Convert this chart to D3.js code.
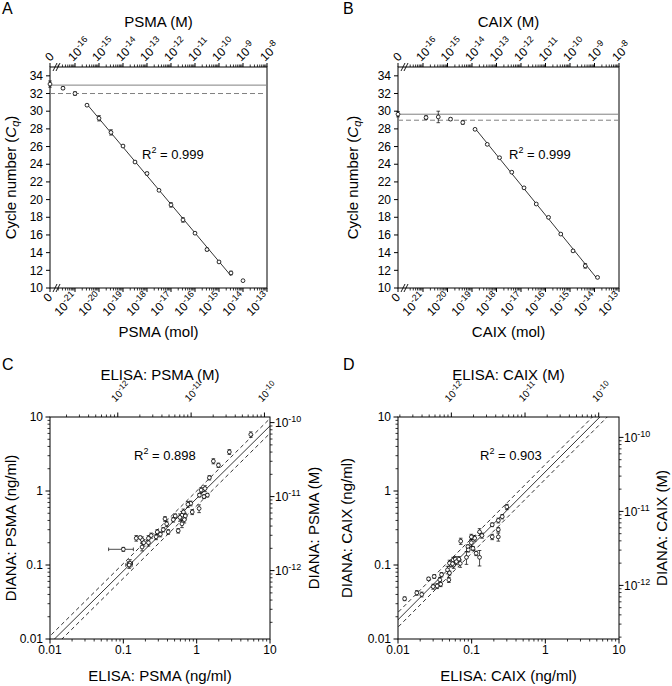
<!DOCTYPE html>
<html><head><meta charset="utf-8">
<script src="https://cdn.jsdelivr.net/npm/d3@7"></script>
<style>
body{margin:0;background:#fff;}
text{font-family: Arial, "Liberation Sans", sans-serif; fill:#000;}
</style></head><body>
<svg id="chart" width="672" height="686"></svg>
<script>
// ================= DATA =================
// Panel A: PSMA calibration (Cq vs amount, mol)
const psmaMol = [3.16e-22,1e-21,3.16e-21,1e-20,3.16e-20,1e-19,3.16e-19,1e-18,3.16e-18,1e-17,3.16e-17,1e-16,3.16e-16,1e-15,3.16e-15,1e-14];
const psmaCq  = [32.6,32.0,30.68,29.2,27.6,26.06,24.25,22.95,21.05,19.4,17.7,16.2,14.35,12.95,11.7,10.83];
const psmaCqErr = [0.15,0.2,0.1,0.3,0.3,0.1,0.1,0.15,0.1,0.25,0.25,0.1,0.15,0.1,0.2,0];
const psmaFitRange = [2,14];
const psmaBlank = [33.07, 0.35];          // Cq, error at amount 0
const psmaLevels = [32.95, 32.0];          // blank mean (solid), cutoff (dashed)
const psmaR2 = "0.999";

// Panel B: CAIX calibration
const caixMol = [1.33e-21,4.2e-21,1.33e-20,4.2e-20,1.33e-19,4.2e-19,1.33e-18,4.2e-18,1.33e-17,4.2e-17,1.33e-16,4.2e-16,1.33e-15,4.2e-15,1.33e-14];
const caixCq  = [29.28,29.35,29.1,28.72,27.95,26.25,24.74,23.1,21.33,19.5,17.99,16.1,14.2,12.5,11.2];
const caixCqErr = [0.2,0.65,0.15,0.2,0.1,0.1,0.1,0.1,0.1,0.1,0.1,0.1,0.1,0.25,0.1];
const caixFitRange = [4,14];
const caixBlank = [29.66, 0.3];
const caixLevels = [29.66, 28.98];
const caixR2 = "0.999";

// Panel C: ELISA vs DIANA, PSMA (ng/ml)
const psmaElisa = [5.47,2.79,1.69,1.98,1.49,1.15,1.30,1.09,1.26,1.40,0.83,0.76,1.08,0.87,0.66,0.63,0.70,0.59,0.68,0.51,0.48,0.63,0.56,0.37,0.39,0.35,0.41,0.29,0.32,0.24,0.28,0.22,0.22,0.18,0.19,0.18,0.15,0.17,0.10,0.123,0.12];
const psmaDiana = [5.8,3.37,2.53,2.23,1.51,1.03,1.08,0.88,0.84,0.88,0.68,0.66,0.58,0.52,0.52,0.47,0.46,0.44,0.41,0.46,0.41,0.36,0.29,0.42,0.36,0.30,0.28,0.28,0.26,0.25,0.24,0.23,0.20,0.22,0.20,0.175,0.23,0.235,0.163,0.106,0.10];
const psmaDianaErr = [0.5,0.25,0.2,0.15,0.1,0.08,0.1,0.05,0.05,0.05,0.05,0.06,0.07,0.04,0.05,0.06,0.04,0.05,0.04,0.03,0.03,0.04,0.02,0.03,0.03,0.02,0.02,0.02,0.02,0.02,0.02,0.02,0.02,0.02,0.02,0.02,0.02,0.01,0.01,0.012,0.01];
const psmaElisaErr = [0,0,0,0,0,0,0,0,0,0,0,0,0,0,0,0,0,0,0,0,0,0,0,0,0,0,0,0,0,0,0,0,0,0,0,0,0,0,0.037,0.01,0.012];
const psmaFit = [0.98, -0.10, 0.10];   // slope, intercept (log-log), band half-width (log)
const psmaMW = 84000;                  // g/mol, for molar axes
const psmaCorrR2 = "0.898";

// Panel D: ELISA vs DIANA, CAIX (ng/ml)
const caixElisa = [0.30,0.26,0.23,0.19,0.23,0.23,0.19,0.128,0.11,0.099,0.071,0.099,0.089,0.104,0.09,0.085,0.128,0.115,0.138,0.056,0.06,0.05,0.057,0.067,0.062,0.055,0.047,0.05,0.049,0.039,0.037,0.031,0.038,0.034,0.030,0.026,0.021,0.018,0.0123,0.07];
const caixDiana = [0.61,0.45,0.40,0.35,0.30,0.24,0.24,0.28,0.23,0.24,0.21,0.20,0.177,0.168,0.16,0.127,0.127,0.144,0.25,0.117,0.12,0.106,0.10,0.12,0.111,0.104,0.086,0.078,0.063,0.074,0.063,0.070,0.055,0.052,0.051,0.065,0.040,0.042,0.035,0.105];
const caixDianaErr = [0.05,0.03,0.03,0.02,0.02,0.03,0.02,0.03,0.02,0.02,0.02,0.02,0.01,0.01,0.01,0.025,0.03,0.01,0.02,0.01,0.01,0.01,0.01,0.01,0.01,0.01,0.01,0.005,0.005,0.005,0.005,0.004,0.004,0.004,0.004,0.003,0.003,0.003,0.002,0.012];
const caixFit = [1.0, 0.26, 0.10];
const caixMW = 53000;
const caixCorrR2 = "0.903";

const molTickExps = [-21,-20,-19,-18,-17,-16,-15,-14,-13];
const mTickExps = [-16,-15,-14,-13,-12,-11,-10,-9,-8];
const cqTicks = [10,12,14,16,18,20,22,24,26,28,30,32,34];
const ngTicks = [0.01,0.1,1,10];
const ngTickLabels = ["0.01","0.1","1","10"];
const molarTickExps = [-12,-11,-10];

// ================= DRAWING =================
const svg = d3.select("#chart");
const TICK_FS = 12, TITLE_FS = 15;

function powLabel(t, exp, base, supFs, shift){
  t.append("tspan").text(base);
  t.append("tspan").attr("font-size", supFs).attr("dy", -shift).text(exp);
}

function errV(g, x, y0, y1, cap){
  g.append("line").attr("x1",x).attr("x2",x).attr("y1",y0).attr("y2",y1);
  g.append("line").attr("x1",x-cap).attr("x2",x+cap).attr("y1",y0).attr("y2",y0);
  g.append("line").attr("x1",x-cap).attr("x2",x+cap).attr("y1",y1).attr("y2",y1);
}
function errH(g, y, x0, x1, cap){
  g.append("line").attr("x1",x0).attr("x2",x1).attr("y1",y).attr("y2",y);
  g.append("line").attr("x1",x0).attr("x2",x0).attr("y1",y-cap).attr("y2",y+cap);
  g.append("line").attr("x1",x1).attr("x2",x1).attr("y1",y-cap).attr("y2",y+cap);
}

function panelLetter(x, y, s){
  svg.append("text").attr("x",x).attr("y",y).attr("font-size",16).text(s);
}

// ---- Cq panels ----
function cqPanel(o){
  const {L,R,T,B,x21,name,mol,cq,err,fit,blank,levels,r2,r2x,r2y,ylabX} = o;
  const g = svg.append("g");
  const y = d3.scaleLinear().domain([10,35]).range([B,T]);
  const x = d3.scaleLog().domain([1e-21,1e-13]).range([x21,R]);
  const xM = d3.scaleLog().domain([1e-16,1e-8]).range([x21,R]);
  const breakX = L + 6.5;
  g.append("rect").attr("x",L).attr("y",T).attr("width",R-L).attr("height",B-T)
    .attr("fill","none").attr("stroke","#000").attr("stroke-width",1);
  cqTicks.forEach(v=>{
    g.append("line").attr("x1",L-4).attr("x2",L).attr("y1",y(v)).attr("y2",y(v)).attr("stroke","#000");
    g.append("text").attr("x",L-7).attr("y",y(v)).attr("dy","0.35em").attr("text-anchor","end")
      .attr("font-size",TICK_FS).text(v);
  });
  const minors = [];
  for(let d=-22; d<=-14; d++) for(let k=2;k<=9;k++){
    const v = k*Math.pow(10,d); const px = x(v);
    if(px > breakX+1.5 && px <= R) minors.push(px);
  }
  const majors = molTickExps.map(e=>x(Math.pow(10,e)));
  [[B,1],[T,-1]].forEach(([yy,dir])=>{
    minors.forEach(px=>g.append("line").attr("x1",px).attr("x2",px).attr("y1",yy).attr("y2",yy+dir*2.5).attr("stroke","#000").attr("stroke-width",0.8));
    majors.forEach(px=>g.append("line").attr("x1",px).attr("x2",px).attr("y1",yy).attr("y2",yy+dir*4).attr("stroke","#000"));
    g.append("line").attr("x1",L).attr("x2",L).attr("y1",yy).attr("y2",yy+dir*4).attr("stroke","#000");
    [-1.5,1.5].forEach(off=>{
      g.append("line").attr("x1",breakX+off-2).attr("x2",breakX+off+2)
        .attr("y1",yy+4).attr("y2",yy-4).attr("stroke","#000").attr("stroke-width",0.9);
    });
  });
  g.append("text").attr("transform",`translate(${L+3},${B+10}) rotate(-45)`)
    .attr("text-anchor","end").attr("font-size",TICK_FS).text("0");
  molTickExps.forEach(e=>{
    const t = g.append("text").attr("transform",`translate(${x(Math.pow(10,e))+3},${B+10}) rotate(-45)`)
      .attr("text-anchor","end").attr("font-size",TICK_FS);
    powLabel(t, "-"+String(-e), "10", 9, 5);
  });
  g.append("text").attr("transform",`translate(${L},${T-5}) rotate(-45)`)
    .attr("text-anchor","start").attr("font-size",TICK_FS).text("0");
  mTickExps.forEach(e=>{
    const t = g.append("text").attr("transform",`translate(${xM(Math.pow(10,e))-2},${T-5}) rotate(-45)`)
      .attr("text-anchor","start").attr("font-size",TICK_FS);
    powLabel(t, "-"+String(-e), "10", 9, 5);
  });
  g.append("text").attr("x",(L+R)/2).attr("y",27).attr("text-anchor","middle").attr("font-size",TITLE_FS).text(name+" (M)");
  g.append("text").attr("x",(L+R)/2).attr("y",337).attr("text-anchor","middle").attr("font-size",TITLE_FS).text(name+" (mol)");
  const yl = g.append("text").attr("transform",`translate(${ylabX},${(T+B)/2}) rotate(-90)`)
    .attr("text-anchor","middle").attr("font-size",TITLE_FS);
  yl.append("tspan").text("Cycle number (");
  yl.append("tspan").attr("font-style","italic").text("C");
  yl.append("tspan").attr("font-style","italic").attr("font-size",11).attr("dy",3).text("q");
  yl.append("tspan").attr("dy",-3).text(")");
  g.append("line").attr("x1",L).attr("x2",R).attr("y1",y(levels[0])).attr("y2",y(levels[0]))
    .attr("stroke","#808080").attr("stroke-width",1);
  g.append("line").attr("x1",L).attr("x2",R).attr("y1",y(levels[1])).attr("y2",y(levels[1]))
    .attr("stroke","#808080").attr("stroke-width",1).attr("stroke-dasharray","5,3");
  const idx = d3.range(fit[0], fit[1]+1);
  const lx = idx.map(i=>Math.log10(mol[i])), ly = idx.map(i=>cq[i]);
  const mx = d3.mean(lx), my = d3.mean(ly);
  const slope = d3.sum(lx.map((v,i)=>(v-mx)*(ly[i]-my))) / d3.sum(lx.map(v=>(v-mx)*(v-mx)));
  const icpt = my - slope*mx;
  const x0 = lx[0], x1 = lx[lx.length-1];
  g.append("line").attr("x1",x(Math.pow(10,x0))).attr("x2",x(Math.pow(10,x1)))
    .attr("y1",y(icpt+slope*x0)).attr("y2",y(icpt+slope*x1)).attr("stroke","#000").attr("stroke-width",0.8);
  const eg = g.append("g").attr("stroke","#000").attr("stroke-width",0.7);
  const pts = mol.map((m,i)=>({px:x(m), py:y(cq[i]), e:err[i], v:cq[i]}));
  pts.push({px:L, py:y(blank[0]), e:blank[1], v:blank[0]});
  pts.forEach(p=>{ if(p.e>0) errV(eg, p.px, y(p.v+p.e), y(p.v-p.e), 1.8); });
  g.selectAll(null).data(pts).enter().append("circle").attr("cx",d=>d.px).attr("cy",d=>d.py).attr("r",1.9)
    .attr("fill","#fff").attr("stroke","#000").attr("stroke-width",0.8);
  const rt = g.append("text").attr("x",r2x).attr("y",r2y).attr("font-size",13);
  rt.append("tspan").text("R");
  rt.append("tspan").attr("font-size",9).attr("dy",-6).text("2");
  rt.append("tspan").attr("dy",6).text(" = "+r2);
}

cqPanel({L:50,R:267,T:67,B:288,x21:75,name:"PSMA",mol:psmaMol,cq:psmaCq,err:psmaCqErr,fit:psmaFitRange,
  blank:psmaBlank,levels:psmaLevels,r2:psmaR2,r2x:142,r2y:159,ylabX:16});
cqPanel({L:398,R:619,T:67,B:288,x21:423,name:"CAIX",mol:caixMol,cq:caixCq,err:caixCqErr,fit:caixFitRange,
  blank:caixBlank,levels:caixLevels,r2:caixR2,r2x:509,r2y:159,ylabX:358});

// ---- correlation panels ----
function corrPanel(o){
  const {L,R,T,B,name,ex,dy,dyErr,exErr,fit,mw,r2,r2x,r2y,ylabX,yrlabX} = o;
  const g = svg.append("g");
  const x = d3.scaleLog().domain([0.01,10]).range([L,R]);
  const y = d3.scaleLog().domain([0.01,10]).range([B,T]);
  const conv = mw*1e6;  // M -> ng/ml
  const xM = d3.scaleLog().domain([0.01/conv,10/conv]).range([L,R]);
  const yM = d3.scaleLog().domain([0.01/conv,10/conv]).range([B,T]);
  const clipId = "clip"+name;
  svg.append("clipPath").attr("id",clipId).append("rect").attr("x",L).attr("y",T).attr("width",R-L).attr("height",B-T);
  g.append("rect").attr("x",L).attr("y",T).attr("width",R-L).attr("height",B-T)
    .attr("fill","none").attr("stroke","#000").attr("stroke-width",1);
  const minorNg = [];
  for(let d=-2; d<1; d++) for(let k=2;k<=9;k++) minorNg.push(k*Math.pow(10,d));
  minorNg.forEach(v=>{
    g.append("line").attr("x1",x(v)).attr("x2",x(v)).attr("y1",B).attr("y2",B+2.5).attr("stroke","#000").attr("stroke-width",0.8);
    g.append("line").attr("x1",L-2.5).attr("x2",L).attr("y1",y(v)).attr("y2",y(v)).attr("stroke","#000").attr("stroke-width",0.8);
  });
  ngTicks.forEach((v,i)=>{
    g.append("line").attr("x1",x(v)).attr("x2",x(v)).attr("y1",B).attr("y2",B+4.5).attr("stroke","#000");
    g.append("line").attr("x1",L-4.5).attr("x2",L).attr("y1",y(v)).attr("y2",y(v)).attr("stroke","#000");
    g.append("text").attr("x",x(v)).attr("y",B+15).attr("text-anchor","middle").attr("font-size",TICK_FS).text(ngTickLabels[i]);
    g.append("text").attr("x",L-7).attr("y",y(v)).attr("dy","0.35em").attr("text-anchor","end").attr("font-size",TICK_FS).text(ngTickLabels[i]);
  });
  const [mlo,mhi] = xM.domain();
  for(let d=Math.floor(Math.log10(mlo)); d<=Math.ceil(Math.log10(mhi)); d++){
    for(let k=1;k<=9;k++){
      const v = k*Math.pow(10,d);
      if(v<mlo || v>mhi) continue;
      const len = k===1?4.5:2.5, sw = k===1?1:0.8;
      g.append("line").attr("x1",xM(v)).attr("x2",xM(v)).attr("y1",T).attr("y2",T-len).attr("stroke","#000").attr("stroke-width",sw);
      g.append("line").attr("x1",R).attr("x2",R+len).attr("y1",yM(v)).attr("y2",yM(v)).attr("stroke","#000").attr("stroke-width",sw);
    }
  }
  molarTickExps.forEach(e=>{
    const v = Math.pow(10,e);
    const t = g.append("text").attr("transform",`translate(${xM(v)+3},${T-25}) rotate(-45)`)
      .attr("text-anchor","middle").attr("dy","0.35em").attr("font-size",10);
    powLabel(t, "-"+String(-e), "10", 8, 4);
    const t2 = g.append("text").attr("x",R+5).attr("y",yM(v)).attr("dy","0.35em").attr("font-size",TICK_FS);
    powLabel(t2, "-"+String(-e), "10", 9, 5);
  });
  g.append("text").attr("x",(L+R)/2).attr("y",380).attr("text-anchor","middle").attr("font-size",TITLE_FS).text("ELISA: "+name+" (M)");
  g.append("text").attr("x",(L+R)/2).attr("y",681).attr("text-anchor","middle").attr("font-size",TITLE_FS).text("ELISA: "+name+" (ng/ml)");
  g.append("text").attr("transform",`translate(${ylabX},${(T+B)/2}) rotate(-90)`).attr("text-anchor","middle")
    .attr("font-size",TITLE_FS).text("DIANA: "+name+" (ng/ml)");
  g.append("text").attr("transform",`translate(${yrlabX},${(T+B)/2}) rotate(-90)`).attr("text-anchor","middle")
    .attr("font-size",TITLE_FS).text("DIANA: "+name+" (M)");
  const lg = g.append("g").attr("clip-path",`url(#${clipId})`);
  const [sl,ic,bw] = fit;
  [[0,null],[bw,"4,3"],[-bw,"4,3"]].forEach(([off,dash])=>{
    const l = lg.append("line").attr("x1",x(0.001)).attr("x2",x(100))
      .attr("y1",y(Math.pow(10,ic+off+sl*(-3)))).attr("y2",y(Math.pow(10,ic+off+sl*2)))
      .attr("stroke","#000").attr("stroke-width",0.8);
    if(dash) l.attr("stroke-dasharray",dash);
  });
  const eg = g.append("g").attr("stroke","#000").attr("stroke-width",0.7);
  ex.forEach((v,i)=>{
    const px = x(v), py = y(dy[i]);
    if(dyErr[i]>0) errV(eg, px, y(dy[i]+dyErr[i]), y(Math.max(dy[i]-dyErr[i],1e-4)), 1.8);
    if(exErr && exErr[i]>0) errH(eg, py, x(v-exErr[i]), x(v+exErr[i]), 1.8);
  });
  g.selectAll(null).data(ex).enter().append("circle").attr("cx",d=>x(d)).attr("cy",(d,i)=>y(dy[i])).attr("r",1.9)
    .attr("fill","#fff").attr("stroke","#000").attr("stroke-width",0.8);
  const rt = g.append("text").attr("x",r2x).attr("y",r2y).attr("font-size",13);
  rt.append("tspan").text("R");
  rt.append("tspan").attr("font-size",9).attr("dy",-6).text("2");
  rt.append("tspan").attr("dy",6).text(" = "+r2);
}

corrPanel({L:50,R:270,T:417,B:639,name:"PSMA",ex:psmaElisa,dy:psmaDiana,dyErr:psmaDianaErr,exErr:psmaElisaErr,
  fit:psmaFit,mw:psmaMW,r2:psmaCorrR2,r2x:134,r2y:460,ylabX:16,yrlabX:319});
corrPanel({L:398,R:619,T:417,B:639,name:"CAIX",ex:caixElisa,dy:caixDiana,dyErr:caixDianaErr,exErr:null,
  fit:caixFit,mw:caixMW,r2:caixCorrR2,r2x:480,r2y:460,ylabX:352,yrlabX:667});

panelLetter(2,13.5,"A");
panelLetter(343,13.5,"B");
panelLetter(2,370,"C");
panelLetter(343,370,"D");
</script></body></html>
